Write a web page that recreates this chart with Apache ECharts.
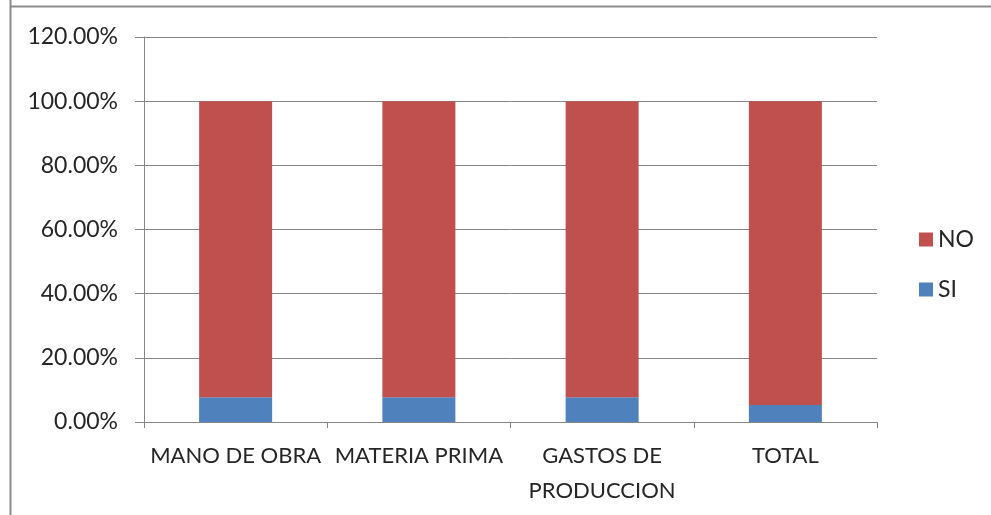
<!DOCTYPE html>
<html>
<head>
<meta charset="utf-8">
<script src="https://cdn.jsdelivr.net/npm/echarts@6/dist/echarts.min.js"></script>
<style>html,body{margin:0;padding:0;background:#fff}#c{width:991px;height:515px}</style>
</head>
<body>
<div id="c"></div>
<script>
var categories = ['MANO DE OBRA', 'MATERIA PRIMA', 'GASTOS DE PRODUCCION', 'TOTAL'];
var siValues = [7.7, 7.7, 7.7, 5.3];
var noValues = [92.3, 92.3, 92.3, 94.7];
var yTicks = { min: 0, max: 120, interval: 20 };

var FONT = 'Lato';
var chart = echarts.init(document.getElementById('c'));
chart.setOption({
  animation: false,
  backgroundColor: '#fff',
  graphic: [
    { type: 'line', shape: { x1: 10.5, y1: 0, x2: 10.5, y2: 515 }, style: { stroke: '#8c8c8c', lineWidth: 2 } },
    { type: 'line', shape: { x1: 10, y1: 6.5, x2: 991, y2: 6.5 }, style: { stroke: '#8c8c8c', lineWidth: 2 } }
  ],
  grid: { left: 144, right: 114, top: 37, bottom: 93 },
  legend: {
    orient: 'vertical', left: 914, top: 223,
    data: ['NO', 'SI'], itemWidth: 14, itemHeight: 14, itemGap: 27, itemGap: 27,
    icon: 'rect',
    textStyle: { fontFamily: FONT, fontSize: 23, color: '#262626' }
  },
  xAxis: {
    type: 'category', data: categories,
    axisLine: { lineStyle: { color: '#868686' } },
    axisTick: { show: true, length: 6, lineStyle: { color: '#868686' } },
    axisLabel: {
      interval: 0, margin: 16, fontFamily: FONT, fontSize: 22, color: '#262626', lineHeight: 35,
      formatter: function (v) { return v === 'GASTOS DE PRODUCCION' ? 'GASTOS DE\nPRODUCCION' : v; }
    }
  },
  yAxis: {
    type: 'value', min: yTicks.min, max: yTicks.max, interval: yTicks.interval,
    axisLine: { show: true, lineStyle: { color: '#868686' } },
    axisTick: { show: true, length: 9, lineStyle: { color: '#868686' } },
    splitLine: { lineStyle: { color: '#868686' } },
    axisLabel: {
      margin: 26, fontFamily: FONT, fontSize: 23, color: '#262626',
      formatter: function (v) { return v.toFixed(2) + '%'; }
    }
  },
  series: [
    { name: 'SI', type: 'bar', stack: 'a', data: siValues, barWidth: 73, itemStyle: { color: '#4F81BD' } },
    { name: 'NO', type: 'bar', stack: 'a', data: noValues, barWidth: 73, itemStyle: { color: '#C0504D' } }
  ]
});
</script>
</body>
</html>
